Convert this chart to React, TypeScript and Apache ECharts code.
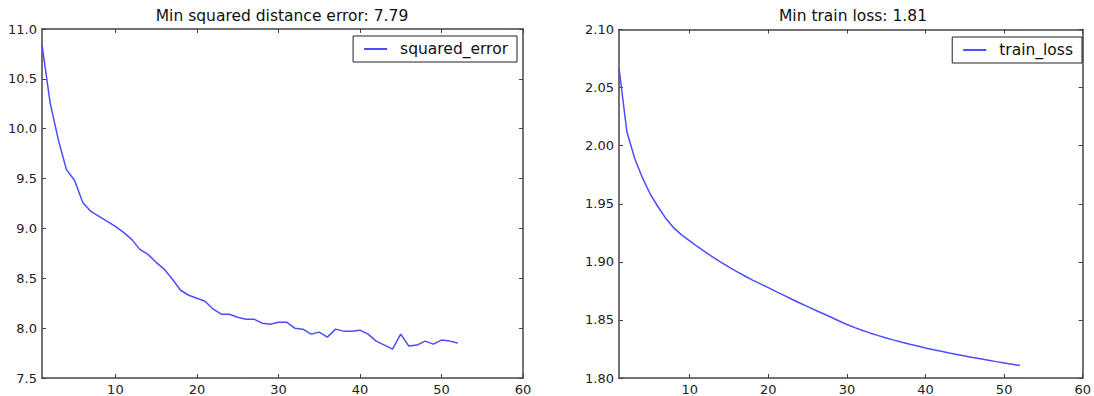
import React, { useEffect, useRef } from "react";
import * as echarts from "echarts";

const epochs: number[] = Array.from({ length: 52 }, (_, i) => i + 1);

const squaredError: number[] = [
  10.84, 10.26, 9.89, 9.59, 9.48, 9.26, 9.17, 9.12, 9.07, 9.02,
  8.96, 8.89, 8.79, 8.74, 8.66, 8.59, 8.49, 8.38, 8.33, 8.30,
  8.27, 8.19, 8.14, 8.14, 8.11, 8.09, 8.09, 8.05, 8.04, 8.06,
  8.06, 8.00, 7.99, 7.94, 7.96, 7.91, 7.99, 7.97, 7.97, 7.98,
  7.94, 7.87, 7.83, 7.79, 7.94, 7.82, 7.83, 7.87, 7.84, 7.88,
  7.87, 7.85,
];

const trainLoss: number[] = [
  2.067, 2.012, 1.989, 1.972, 1.958, 1.947, 1.937, 1.929, 1.923, 1.918,
  1.913, 1.9083, 1.9038, 1.8995, 1.8954, 1.8915, 1.8878, 1.8843, 1.881, 1.8778,
  1.8744, 1.8711, 1.8678, 1.8646, 1.8614, 1.8583, 1.8553, 1.8523, 1.8491, 1.8461,
  1.8434, 1.8409, 1.8386, 1.8365, 1.8345, 1.8326, 1.8308, 1.8291, 1.8275, 1.8259,
  1.8244, 1.8230, 1.8216, 1.8203, 1.8190, 1.8177, 1.8165, 1.8153, 1.8141, 1.8130,
  1.8119, 1.8108,
];

const xTicks: number[] = [10, 20, 30, 40, 50, 60];
const titles: string[] = ["Min squared distance error: 7.79", "Min train loss: 1.81"];
const seriesNames: string[] = ["squared_error", "train_loss"];

const FONT = "DejaVu Sans";
const FRAME = "#444";
const LINE = "rgb(77,77,255)";

export default function App() {
  const ref = useRef<HTMLDivElement>(null);
  useEffect(() => {
    document.body.style.margin = "0";
    const chart = echarts.init(ref.current!, null, { renderer: "svg" });
    const axisLine = { show: true, lineStyle: { color: FRAME, width: 1.5 } };
    const tick = { show: true, inside: true, length: 4, lineStyle: { color: FRAME, width: 1 } };
    const label = { color: "#222", fontFamily: FONT, fontSize: 13 };
    const xAxisPair = (gi: number) => [
      {
        type: "value", gridIndex: gi, position: "bottom", min: 1, max: 60,
        axisLine, splitLine: { show: false },
        axisTick: { ...tick, customValues: xTicks },
        axisLabel: { ...label, margin: 5, customValues: xTicks },
      },
      {
        type: "value", gridIndex: gi, position: "top", min: 1, max: 60,
        axisLine, splitLine: { show: false },
        axisTick: { ...tick, customValues: xTicks },
        axisLabel: { show: false },
      },
    ];
    const yAxisPair = (gi: number, min: number, max: number, interval: number, dec: number) => [
      {
        type: "value", gridIndex: gi, position: "left", min, max, interval,
        axisLine, splitLine: { show: false }, axisTick: tick,
        axisLabel: { ...label, margin: 5, formatter: (v: number) => v.toFixed(dec) },
      },
      {
        type: "value", gridIndex: gi, position: "right", min, max, interval,
        axisLine, splitLine: { show: false }, axisTick: tick,
        axisLabel: { show: false },
      },
    ];
    const legendBase = {
      borderColor: "#222", borderWidth: 1, borderRadius: 0,
      padding: [5, 9, 5, 11], itemWidth: 23, itemHeight: 2, itemGap: 0,
      icon: "rect",
      textStyle: { fontFamily: FONT, fontSize: 15.5, color: "#111", padding: [0, 0, 0, 8] },
    };
    chart.setOption({
      animation: false,
      backgroundColor: "#fff",
      title: [
        {
          text: titles[0], left: 282, top: 8, textAlign: "center", padding: 0,
          textStyle: { fontFamily: FONT, fontSize: 15.5, fontWeight: "normal", color: "#111" },
        },
        {
          text: titles[1], left: 853, top: 8, textAlign: "center", padding: 0,
          textStyle: { fontFamily: FONT, fontSize: 15.5, fontWeight: "normal", color: "#111" },
        },
      ],
      legend: [
        { ...legendBase, data: [seriesNames[0]], right: 577, top: 36 },
        { ...legendBase, data: [seriesNames[1]], right: 12, top: 37 },
      ],
      grid: [
        { left: 42, top: 29, width: 481, height: 350 },
        { left: 619, top: 29.5, width: 470, height: 352.5 },
      ],
      xAxis: [...xAxisPair(0), ...xAxisPair(1)],
      yAxis: [...yAxisPair(0, 7.5, 11, 0.5, 1), ...yAxisPair(1, 1.8, 2.1, 0.05, 2)],
      series: [
        {
          name: seriesNames[0], type: "line", xAxisIndex: 0, yAxisIndex: 0,
          data: epochs.map((e, i) => [e, squaredError[i]]),
          symbol: "none", lineStyle: { color: LINE, width: 1.5 }, itemStyle: { color: LINE },
        },
        {
          name: seriesNames[1], type: "line", xAxisIndex: 2, yAxisIndex: 2,
          data: epochs.map((e, i) => [e, trainLoss[i]]),
          symbol: "none", lineStyle: { color: LINE, width: 1.5 }, itemStyle: { color: LINE },
        },
      ],
    });
    return () => chart.dispose();
  }, []);
  return <div ref={ref} style={{ width: 1094, height: 396 }} />;
}
